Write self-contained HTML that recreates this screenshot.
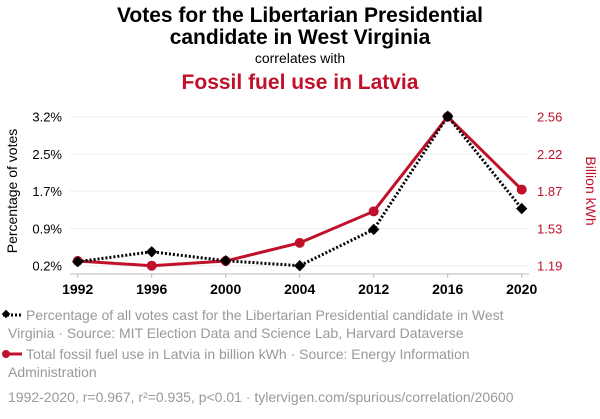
<!DOCTYPE html>
<html><head><meta charset="utf-8"><style>
body{margin:0;background:#fff;font-family:"Liberation Sans",sans-serif;}
svg text{font-family:"Liberation Sans",sans-serif;}
</style></head><body>
<svg id="c" width="600" height="414" xmlns="http://www.w3.org/2000/svg">
<text x="300" y="22" text-anchor="middle" font-size="21" font-weight="bold" fill="#000">Votes for the Libertarian Presidential</text>
<text x="300" y="44" text-anchor="middle" font-size="21" font-weight="bold" fill="#000">candidate in West Virginia</text>
<text x="300" y="63" text-anchor="middle" font-size="14" fill="#000">correlates with</text>
<text x="300" y="89" text-anchor="middle" font-size="21" font-weight="bold" fill="#c0102a">Fossil fuel use in Latvia</text>
<text transform="translate(17,191) rotate(-90)" text-anchor="middle" font-size="14" fill="#000">Percentage of votes</text>
<text transform="translate(586,191) rotate(90)" text-anchor="middle" font-size="14" fill="#c0102a">Billion kWh</text>
<g id="grid"></g><g id="axes"></g><g id="series"></g>
<g>
<line x1="3" y1="315" x2="22" y2="315" stroke="#000" stroke-width="3" stroke-dasharray="2,2"/>
<rect x="3" y="311" width="6" height="6" fill="#000" transform="rotate(45 6 314)"/>
<text x="26" y="320" font-size="14" fill="#999">Percentage of all votes cast for the Libertarian Presidential candidate in West</text>
<text x="8" y="338" font-size="14" fill="#999">Virginia · Source: MIT Election Data and Science Lab, Harvard Dataverse</text>
<line x1="3" y1="354" x2="22" y2="354" stroke="#c0102a" stroke-width="3"/>
<circle cx="6" cy="354" r="4" fill="#c0102a"/>
<text x="26" y="359" font-size="14" fill="#999">Total fossil fuel use in Latvia in billion kWh · Source: Energy Information</text>
<text x="8" y="377" font-size="14" fill="#999">Administration</text>
<text x="8" y="402" font-size="14" fill="#999">1992-2020, r=0.967, r²=0.935, p&lt;0.01 · tylervigen.com/spurious/correlation/20600</text>
</g>
</svg>
<script>
const years=["1992","1996","2000","2004","2012","2016","2020"];
const votes=[0.28,0.48,0.30,0.20,0.93,3.21,1.35];
const fossil=[1.233,1.19,1.233,1.40,1.69,2.56,1.89];
const leftTicks=["0.2%","0.9%","1.7%","2.5%","3.2%"];
const rightTicks=["1.19","1.53","1.87","2.22","2.56"];
const NS="http://www.w3.org/2000/svg";
const x0=77.7,x1=521.7,yTop=116.7,yBot=265.7;
function xs(i){return x0+(x1-x0)*i/(years.length-1);}
function yl(v){return yBot-(v-0.2)/(3.2-0.2)*(yBot-yTop);}
function yr(v){return yBot-(v-1.19)/(2.56-1.19)*(yBot-yTop);}
function mk(t,a,p){const e=document.createElementNS(NS,t);for(const k in a)e.setAttribute(k,a[k]);p.appendChild(e);return e;}
const grid=document.getElementById('grid'),axes=document.getElementById('axes'),ser=document.getElementById('series');
leftTicks.forEach((t,i)=>{const y=yBot-(yBot-yTop)*i/(leftTicks.length-1);
const g=mk('line',{x1:70,x2:529,y1:y,y2:y,stroke:'#eee','stroke-width':1},grid);


const l=mk('text',{x:62,y:y+5,'text-anchor':'end','font-size':13,fill:'#000'},axes);l.textContent=t;


const r=mk('text',{x:537,y:y+5,'font-size':13,fill:'#c0102a'},axes);r.textContent=rightTicks[i];


});
const ax=mk('line',{x1:70,x2:529,y1:274,y2:274,stroke:'#bbb'},axes);


years.forEach((yv,i)=>{mk('line',{x1:xs(i),x2:xs(i),y1:274,y2:278,stroke:'#bbb'},axes);
const t=mk('text',{x:xs(i),y:294,'text-anchor':'middle','font-size':14,'font-weight':'bold',fill:'#000'},axes);t.textContent=yv;

});
const rp=fossil.map((v,i)=>xs(i)+','+yr(v)).join(' ');
const rl=mk('polyline',{points:rp,fill:'none',stroke:'#c0102a','stroke-width':3},ser);


fossil.forEach((v,i)=>{const c=mk('circle',{cx:xs(i),cy:yr(v),r:5,fill:'#c0102a'},ser);

});
const bp=votes.map((v,i)=>xs(i)+','+yl(v)).join(' ');
const bl=mk('polyline',{points:bp,fill:'none',stroke:'#000','stroke-width':3,'stroke-dasharray':'2,2'},ser);


votes.forEach((v,i)=>{const x=xs(i),y=yl(v);const d=mk('rect',{x:x-4,y:y-4,width:8,height:8,fill:'#000',transform:`rotate(45 ${x} ${y})`},ser);

});
</script>
</body></html>
